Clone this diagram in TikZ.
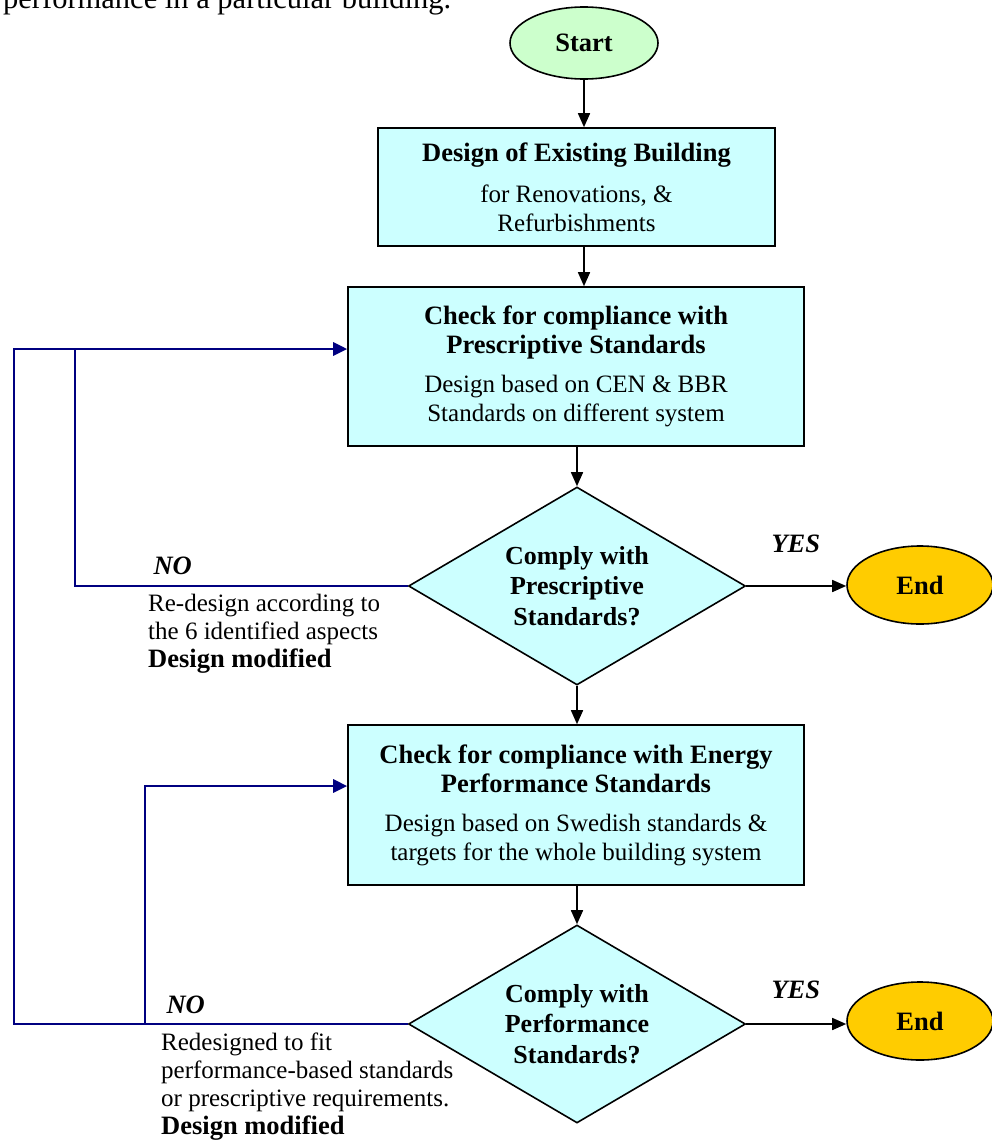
\documentclass[tikz,border=0pt]{standalone}
\usepackage{fontspec}
\setmainfont{Liberation Serif}
\usetikzlibrary{shapes.geometric,arrows.meta}
\definecolor{boxfill}{RGB}{204,255,255}
\definecolor{startfill}{RGB}{204,255,204}
\definecolor{endfill}{RGB}{255,204,0}
\definecolor{backblue}{RGB}{0,0,128}
\newcommand{\bodysize}{\fontsize{25}{29}\selectfont}
\newcommand{\headsize}{\fontsize{26.5}{30}\selectfont\bfseries}
\begin{document}
\begin{tikzpicture}[x=1pt,y=-1pt,
  every node/.style={font=\bodysize},
  procbox/.style={draw=black,line width=1.6pt,fill=boxfill,rectangle,inner sep=0pt,align=center},
  decision/.style={draw=black,line width=1.6pt,fill=boxfill,diamond,aspect=1.7,inner sep=0pt,align=center,
    minimum width=337pt,minimum height=198pt,font=\fontsize{26}{30.5}\selectfont\bfseries},
  terminal/.style={draw=black,line width=1.6pt,ellipse,inner sep=0pt,font=\headsize},
  flow/.style={line width=1.6pt,-{Triangle[length=14pt,width=12pt]}},
  backline/.style={draw=backblue,line width=2.8pt},
  backarrow/.style={backline,-{Triangle[length=14pt,width=13pt]}},
  answer/.style={anchor=base west,font=\headsize\itshape},
  note/.style={anchor=north west,align=left,inner sep=0pt,font=\fontsize{25}{28}\selectfont}
]
\useasboundingbox (0,0) rectangle (991,1146);

% preceding sentence, cut by the page edge
\node[anchor=base west,inner sep=0pt,font=\fontsize{30.5}{36}\selectfont] (intro) at (3,8) {performance in a particular building.};

% terminals
\node[terminal,fill=startfill,minimum width=148pt,minimum height=72pt] (start) at (584,43) {Start};
\node[terminal,fill=endfill,minimum width=146pt,minimum height=78pt] (end1) at (920,585) {End};
\node[terminal,fill=endfill,minimum width=146pt,minimum height=78pt] (end2) at (920,1021) {End};

% process boxes
\node[procbox,minimum width=397pt,minimum height=118pt] (b1) at (576.5,187)
  {{\headsize Design of Existing Building}\\[12pt]for Renovations, \&\\Refurbishments};
\node[procbox,minimum width=456pt,minimum height=159pt] (b2) at (576,366.5)
  {{\headsize Check for compliance with}\\{\headsize Prescriptive Standards}\\[10pt]Design based on CEN \& BBR\\Standards on different system};
\node[procbox,minimum width=456pt,minimum height=160pt] (b3) at (576,805)
  {{\headsize Check for compliance with Energy}\\{\headsize Performance Standards}\\[10pt]Design based on Swedish standards \&\\targets for the whole building system};

% decisions
\node[decision] (d1) at (577,586) {Comply with\\Prescriptive\\Standards?};
\node[decision] (d2) at (577,1024) {Comply with\\Performance\\Standards?};

% main flow
\draw[flow] (start.south) -- (start.south |- b1.north);
\draw[flow] (b1.south -| start) -- (b2.north -| start);
\draw[flow] (b2.south -| d1) -- (d1.north);
\draw[flow] (d1.south) -- (b3.north -| d1);
\draw[flow] (b3.south -| d2) -- (d2.north);
\draw[flow] (d1.east) -- (d1.east -| end1.west);
\draw[flow] (d2.east) -- (d2.east -| end2.west);

% feedback loops
\coordinate (outerx) at (14,0);
\coordinate (midx) at (75,0);
\coordinate (innerx) at (145,0);
\coordinate (b2in) at ([yshift=17.5pt]b2.west);
\coordinate (b3in) at ([yshift=19pt]b3.west);
\draw[backarrow] (d2.west) -- (d2.west -| outerx) -- (outerx |- b2in) -- (b2in);
\draw[backline] (d1.west) -- (d1.west -| midx) -- (midx |- b2in);
\draw[backarrow] (d2.west -| innerx) -- (innerx |- b3in) -- (b3in);

% answers
\node[answer] (no1) at (150,574) {NO};
\node[answer] (yes1) at (768,552) {YES};
\node[answer] (no2) at (163,1013) {NO};
\node[answer] (yes2) at (768,998) {YES};

% notes under the NO branches
\node[note] (n1) at (148,594) {Re-design according to\\the 6 identified aspects\\{\headsize Design modified}};
\node[note] (n2) at (161,1033) {Redesigned to fit\\performance-based standards\\or prescriptive requirements.\\{\headsize Design modified}};
\end{tikzpicture}
\end{document}
